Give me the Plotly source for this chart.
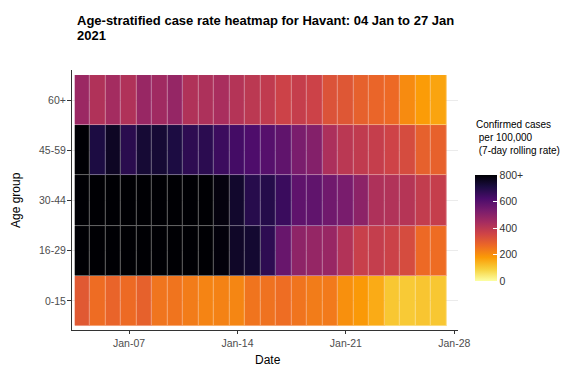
import pandas as pd
import plotly.graph_objects as go

# ---- data ----
dates = pd.date_range("2021-01-04", "2021-01-27", freq="D")
age_groups = ["0-15", "16-29", "30-44", "45-59", "60+"]

rate_0_15 = [305, 262, 279, 265, 286, 246, 247, 233, 219, 222, 215, 247,
             251, 260, 247, 233, 237, 198, 182, 152, 106, 101, 108, 106]
rate_16_29 = [960, 985, 1010, 990, 975, 950, 930, 905, 860, 790, 748, 735,
              675, 565, 490, 476, 470, 417, 371, 379, 364, 337, 267, 262]
rate_30_44 = [1040, 1060, 1075, 1050, 1020, 985, 940, 900, 850, 785, 740, 688,
              692, 652, 581, 579, 548, 532, 494, 425, 419, 410, 383, 376]
rate_45_59 = [830, 710, 754, 683, 728, 728, 710, 675, 680, 649, 634, 614,
              600, 580, 530, 510, 430, 400, 388, 377, 358, 337, 287, 285]
rate_60_plus = [464, 421, 446, 421, 470, 454, 476, 421, 427, 436, 413, 398,
                388, 362, 377, 362, 320, 311, 287, 277, 267, 206, 176, 163]

cbar_ticks = [0, 200, 400, 600, 800]
cbar_labels = ["0", "200", "400", "600", "800+"]
x_ticks = ["2021-01-07", "2021-01-14", "2021-01-21", "2021-01-28"]

z = [rate_0_15, rate_16_29, rate_30_44, rate_45_59, rate_60_plus]

FONT = "Liberation Sans, Arial, sans-serif"
# the page body adds an 8px margin, so the figure is sized to fit inside the window
OFF = 8
W, H = 581 - OFF, 372 - OFF
L, T = 72 - OFF, 70 - OFF
RIGHT, BOTTOM = 458 - OFF, 330 - OFF
R, B = W - RIGHT, H - BOTTOM
PW, PH = RIGHT - L, BOTTOM - T


def px(x):
    return (x - OFF - L) / PW


def py(y):
    return (BOTTOM - (y - OFF)) / PH


fig = go.Figure(
    go.Heatmap(
        x=dates, y=age_groups, z=z, zmin=0, zmax=800,
        colorscale="Inferno", reversescale=True,
        opacity=0.6, showscale=False, hoverinfo="skip",
    )
)
fig.add_trace(
    go.Heatmap(
        x=dates,
        y=age_groups,
        z=z,
        zmin=0,
        zmax=800,
        colorscale="Inferno",
        reversescale=True,
        xgap=1,
        ygap=1,
        colorbar=dict(
            x=px(475),
            xanchor="left",
            xpad=0,
            y=py(228),
            yanchor="middle",
            ypad=0,
            lenmode="pixels",
            len=106,
            thickness=22,
            outlinewidth=0,
            tickvals=cbar_ticks,
            ticktext=cbar_labels,
            ticks="inside",
            ticklen=4,
            tickcolor="white",
            tickfont=dict(family=FONT, size=10.5, color="#333333"),
        ),
        hovertemplate="%{x|%d %b}<br>%{y}: %{z}<extra></extra>",
    )
)

fig.update_layout(
    template="none",
    width=W,
    height=H,
    margin=dict(l=L, r=R, t=T, b=B),
    paper_bgcolor="white",
    plot_bgcolor="white",
    font=dict(family=FONT, color="#000000"),
    annotations=[
        dict(
            text="<b>Age-stratified case rate heatmap for Havant: 04 Jan to 27 Jan</b>",
            xref="paper", yref="paper",
            x=px(75), y=py(20),
            xanchor="left", yanchor="middle", align="left",
            showarrow=False,
            font=dict(family=FONT, size=13, color="#000000"),
        ),
        dict(
            text="<b>2021</b>",
            xref="paper", yref="paper",
            x=px(75), y=py(35),
            xanchor="left", yanchor="middle", align="left",
            showarrow=False,
            font=dict(family=FONT, size=13, color="#000000"),
        ),
        dict(
            text="Confirmed cases<br> per 100,000<br> (7-day rolling rate)",
            xref="paper", yref="paper",
            x=px(474), y=py(117),
            xanchor="left", yanchor="top", align="left",
            showarrow=False,
            font=dict(family=FONT, size=10, color="#000000"),
        ),
        dict(
            text="Date",
            xref="paper", yref="paper",
            x=px(268), y=py(360),
            xanchor="center", yanchor="middle",
            showarrow=False,
            font=dict(family=FONT, size=12, color="#000000"),
        ),
        dict(
            text="Age group",
            xref="paper", yref="paper",
            x=px(16), y=py(200),
            xanchor="center", yanchor="middle", textangle=-90,
            showarrow=False,
            font=dict(family=FONT, size=12, color="#000000"),
        ),
    ],
)

fig.update_xaxes(
    type="date",
    range=["2021-01-03 07:40", "2021-01-28 05:45"],
    tickvals=x_ticks,
    tickformat="%b-%d",
    ticks="outside",
    ticklen=3,
    tickcolor="#333333",
    tickfont=dict(family=FONT, size=10.5, color="#4d4d4d"),
    showline=True,
    linecolor="#333333",
    linewidth=1,
    showgrid=False,
    zeroline=False,
    automargin=False,
)

fig.update_yaxes(
    type="category",
    categoryorder="array",
    categoryarray=age_groups,
    range=[-0.58, 4.6],
    ticks="outside",
    ticklen=4,
    tickcolor="#333333",
    tickfont=dict(family=FONT, size=10.5, color="#4d4d4d"),
    ticklabelstandoff=-1,
    showline=True,
    linecolor="#333333",
    linewidth=1,
    showgrid=True,
    gridcolor="#ebebeb",
    gridwidth=1,
    zeroline=False,
    automargin=False,
)

fig.write_html("out.html")
